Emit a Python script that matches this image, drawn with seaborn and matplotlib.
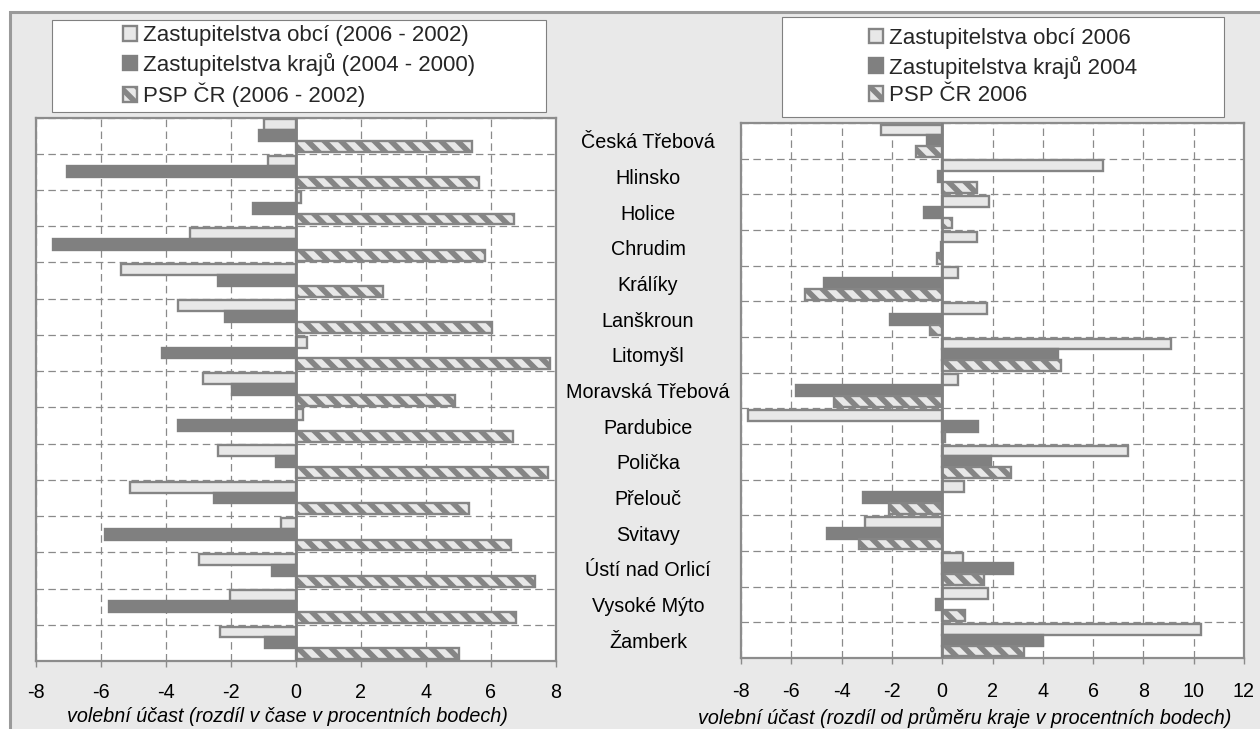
import numpy as np
import pandas as pd
import seaborn as sns
import matplotlib.pyplot as plt
from matplotlib.patches import Rectangle

# ---------------- data ----------------
categories = ["Česká Třebová", "Hlinsko", "Holice", "Chrudim", "Králíky", "Lanškroun",
              "Litomyšl", "Moravská Třebová", "Pardubice", "Polička", "Přelouč",
              "Svitavy", "Ústí nad Orlicí", "Vysoké Mýto", "Žamberk"]

left_series = ["Zastupitelstva obcí (2006 - 2002)",
               "Zastupitelstva krajů (2004 - 2000)",
               "PSP ČR (2006 - 2002)"]
left_obce = [-0.97, -0.87, 0.14, -3.26, -5.39, -3.62, 0.33, -2.85, 0.20, -2.41, -5.12, -0.46, -2.97, -2.04, -2.35]
left_kraje = [-1.15, -7.06, -1.33, -7.47, -2.39, -2.20, -4.11, -1.97, -3.62, -0.63, -2.53, -5.88, -0.75, -5.75, -0.95]
left_psp = [5.43, 5.62, 6.72, 5.83, 2.67, 6.03, 7.83, 4.88, 6.67, 7.75, 5.31, 6.62, 7.35, 6.77, 5.00]

right_series = ["Zastupitelstva obcí 2006",
                "Zastupitelstva krajů 2004",
                "PSP ČR 2006"]
right_obce = [-2.42, 6.39, 1.87, 1.39, 0.61, 1.79, 9.11, 0.64, -7.72, 7.38, 0.86, -3.07, 0.82, 1.84, 10.30]
right_kraje = [-0.59, -0.15, -0.72, -0.04, -4.69, -2.06, 4.60, -5.81, 1.41, 1.93, -3.14, -4.60, 2.80, -0.23, 4.02]
right_psp = [-1.05, 1.37, 0.38, -0.22, -5.44, -0.49, 4.73, -4.30, 0.10, 2.73, -2.10, -3.32, 1.67, 0.90, 3.25]

left_xticks = [-8, -6, -4, -2, 0, 2, 4, 6, 8]
right_xticks = [-8, -6, -4, -2, 0, 2, 4, 6, 8, 10, 12]
xlabel_left = "volební účast (rozdíl v čase v procentních bodech)"
xlabel_right = "volební účast (rozdíl od průměru kraje v procentních bodech)"

# ---------------- style ----------------
sns.set_theme(style="white")
plt.rcParams['font.family'] = ['Liberation Sans', 'DejaVu Sans']
plt.rcParams['hatch.linewidth'] = 4.0

LIGHT = "#e8e8e8"
DARK = "#808080"
EDGE = "#858585"
GRID = "#8a8a8a"
BG = "#e9e9e9"
FS = 14.2

W, H = 1260, 729
fig = plt.figure(figsize=(W / 100, H / 100), dpi=100)
fig.patch.set_facecolor("white")
fig.patches.append(Rectangle((10 / W, -0.05), 1.2, (H - 11.5) / H + 0.05,
                             transform=fig.transFigure, facecolor=BG,
                             edgecolor="#9a9a9a", lw=2.2, zorder=-10))


def fig_rect(x0, y0, x1, y1):
    """pixel box (top-left origin) -> figure fraction rect"""
    return [x0 / W, 1 - y1 / H, (x1 - x0) / W, (y1 - y0) / H]


def panel(ax, obce, kraje, psp, names, xlim, xticks, tick_pad):
    n = len(categories)
    df = pd.DataFrame({
        "kategorie": categories * 3,
        "hodnota": obce + kraje + psp,
        "serie": [names[0]] * n + [names[1]] * n + [names[2]] * n,
    })
    sns.barplot(data=df, y="kategorie", x="hodnota", hue="serie", hue_order=names,
                order=categories, orient="h", palette=[LIGHT, DARK, LIGHT],
                saturation=1, width=0.9, gap=0, dodge=True, legend=False,
                errorbar=None, ax=ax, zorder=3)
    styles = [(EDGE, None), (DARK, None), (EDGE, "\\\\")]
    for cont, (ec, hatch) in zip(ax.containers, styles):
        for p in cont:
            p.set_edgecolor(ec)
            p.set_linewidth(1.7)
            if hatch:
                p.set_hatch(hatch)
    ax.set_xlim(*xlim)
    ax.set_ylim(n - 0.5, -0.5)
    ax.set_xticks(xticks)
    ax.set_xticklabels([str(t) for t in xticks])
    ax.set_yticks(np.arange(-0.5, n, 1.0), minor=True)
    ax.grid(False)
    ax.grid(which="minor", axis="y", color=GRID, lw=0.9, ls=(0, (6, 3.5)), zorder=1)
    ax.grid(which="major", axis="x", color=GRID, lw=0.9, ls=(0, (6, 3.5)), zorder=1)
    ax.axvline(0, color=DARK, lw=2.0, zorder=4)
    ax.set_facecolor("white")
    for s in ax.spines.values():
        s.set_color("#8c8c8c")
        s.set_linewidth(1.6)
    ax.tick_params(axis="x", which="major", bottom=True, length=4, width=1,
                   color="#8c8c8c", labelsize=FS, pad=tick_pad, labelcolor="black")
    ax.tick_params(axis="y", which="both", left=False, length=0)
    ax.set_ylabel("")
    return [c.patches[0] for c in ax.containers]


ax1 = fig.add_axes(fig_rect(36, 117.5, 556, 661))
h1 = panel(ax1, left_obce, left_kraje, left_psp, left_series, (-8, 8), left_xticks, 11.5)
ax1.set_yticklabels([])
ax1.set_xlabel(xlabel_left, fontsize=FS, style="italic", color="black")
ax1.xaxis.set_label_coords((287 - 36) / 520, -(707 - 661) / (661 - 117.5))

ax2 = fig.add_axes(fig_rect(741, 123, 1244, 658))
h2 = panel(ax2, right_obce, right_kraje, right_psp, right_series, (-8, 12), right_xticks, 13.5)
ax2.set_yticks(range(len(categories)))
ax2.set_yticklabels(categories, fontsize=FS, color="black")
ax2.tick_params(axis="y", which="major", pad=67, length=0)
for lab in ax2.get_yticklabels():
    lab.set_horizontalalignment("center")
ax2.set_xlabel(xlabel_right, fontsize=FS, style="italic", color="black")
ax2.xaxis.set_label_coords((965 - 741) / 503, -(707 - 658) / (658 - 123))

# ---------------- legends ----------------
for (x0, y0, x1, y1), handles, names in [((52, 20, 546, 112), h1, left_series),
                                         ((782, 17, 1224, 117), h2, right_series)]:
    fig.patches.append(Rectangle((x0 / W, 1 - y1 / H), (x1 - x0) / W, (y1 - y0) / H,
                                 transform=fig.transFigure, facecolor="white",
                                 edgecolor="#808080", lw=0.8, zorder=1))
    leg = fig.legend(handles, names, loc="center",
                     bbox_to_anchor=((x0 + x1) / 2 / W, 1 - (y0 + y1) / 2 / H),
                     frameon=False, fontsize=16, handlelength=0.65, handleheight=0.65,
                     handletextpad=0.25, labelspacing=0.3, borderpad=0)
    leg.set_zorder(5)

fig.savefig("out.png", dpi=100, facecolor=fig.get_facecolor())
